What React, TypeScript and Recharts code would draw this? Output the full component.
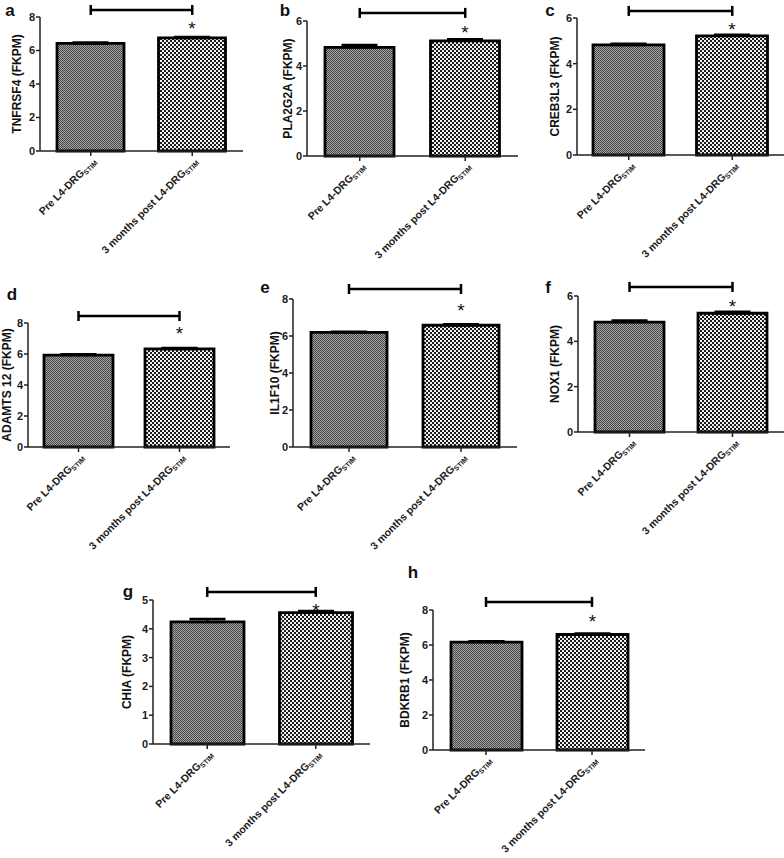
import React from 'react';
import { BarChart, Bar, XAxis, YAxis, ErrorBar, ReferenceLine, LabelList, Cell } from 'recharts';

// ---------------- data ----------------
const categories = ['Pre', 'Post'];
const categoryLabels = ['Pre L4-DRG', '3 months post L4-DRG'];
const categorySubscript = 'STIM';

const panelLetters = ['a', 'b', 'c', 'd', 'e', 'f', 'g', 'h'];
const genes = ['TNFRSF4', 'PLA2G2A', 'CREB3L3', 'ADAMTS 12', 'IL1F10', 'NOX1', 'CHIA', 'BDKRB1'];
const preValues = [6.42, 4.83, 4.82, 5.93, 6.2, 4.85, 4.24, 6.17];
const postValues = [6.75, 5.12, 5.22, 6.33, 6.58, 5.24, 4.56, 6.6];
const preErrors = [0.06, 0.1, 0.05, 0.06, 0.03, 0.07, 0.1, 0.05];
const postErrors = [0.06, 0.07, 0.05, 0.06, 0.06, 0.06, 0.06, 0.06];
const yMaxes = [8, 6, 6, 8, 8, 6, 5, 8];
const yTicks = [
  [0, 2, 4, 6, 8],
  [0, 2, 4, 6],
  [0, 2, 4, 6],
  [0, 2, 4, 6, 8],
  [0, 2, 4, 6, 8],
  [0, 2, 4, 6],
  [0, 1, 2, 3, 4, 5],
  [0, 2, 4, 6, 8],
];
const bracketLevels = [8.42, 6.36, 6.31, 8.45, 8.54, 6.4, 5.28, 8.46];
const significance = ['*', '*', '*', '*', '*', '*', '*', '*'];

// ---------------- layout (page pixels) ----------------
const W = 784;
const H = 858;
const FONT = "'Liberation Sans', Arial, sans-serif";
const YAXIS_W = 30;
const XAXIS_H = 30;
const INK = '#1a1a1a';

const layouts = [
  { x0: 40, x1: 243, top: 17, bottom: 151, barSize: 67, letter: [10, 16], ylabX: 17, starOff: 6 },
  { x0: 307, x1: 518, top: 21, bottom: 156, barSize: 69, letter: [285, 16], ylabX: 288, starOff: 5 },
  { x0: 577, x1: 784, top: 18, bottom: 155, barSize: 71, letter: [550, 16], ylabX: 555, starOff: 3 },
  { x0: 28, x1: 230, top: 323, bottom: 447, barSize: 69, letter: [12, 300], ylabX: 7, starOff: 12 },
  { x0: 293, x1: 517, top: 299, bottom: 447, barSize: 76, letter: [265, 293], ylabX: 275, starOff: 11 },
  { x0: 578, x1: 784, top: 296, bottom: 432, barSize: 69, letter: [548, 293], ylabX: 555, starOff: 3 },
  { x0: 153, x1: 370, top: 600, bottom: 744, barSize: 73, letter: [128, 597], ylabX: 127, starOff: -1 },
  { x0: 433, x1: 645, top: 610, bottom: 750, barSize: 71, letter: [413, 578], ylabX: 405, starOff: 10 },
];

const XTick = (props: any) => {
  const { x, y, payload } = props;
  const idx = categories.indexOf(payload.value);
  return (
    <g transform={`translate(${x + 6},${y + 6}) rotate(-45)`}>
      <text x={0} y={0} textAnchor="end" fontSize={10.5} fontWeight="bold" fill={INK} fontFamily={FONT}>
        {categoryLabels[idx]}
        <tspan fontSize={7} dy={2}>{categorySubscript}</tspan>
      </text>
    </g>
  );
};

const YTick = (props: any) => {
  const { x, y, payload } = props;
  return (
    <text x={x} y={y} dy="0.36em" textAnchor="end" fontSize={11} fontWeight="bold" fill={INK} fontFamily={FONT}>
      {payload.value}
    </text>
  );
};

const Panel = ({ i }: { i: number }) => {
  const L = layouts[i];
  const data = [
    { cat: categories[0], value: preValues[i], err: [0, preErrors[i]] },
    { cat: categories[1], value: postValues[i], err: [0, postErrors[i]] },
  ];
  const ppu = (L.bottom - L.top) / yMaxes[i];
  const capHalf = 5 / ppu;
  const lvl = bracketLevels[i];
  const bracketStyle = { stroke: '#000', strokeWidth: 2.5 };
  return (
    <div style={{ position: 'absolute', left: 0, top: 0, width: W, height: H }}>
      <BarChart
        width={W}
        height={H}
        data={data}
        margin={{ top: L.top, left: L.x0 - YAXIS_W, right: W - L.x1, bottom: H - L.bottom - XAXIS_H }}
        barSize={L.barSize}
      >
        <XAxis
          dataKey="cat"
          height={XAXIS_H}
          interval={0}
          tick={<XTick />}
          tickSize={5}
          tickMargin={0}
          axisLine={{ stroke: '#222', strokeWidth: 1.5 }}
          tickLine={{ stroke: '#222', strokeWidth: 1.5 }}
        />
        <YAxis
          type="number"
          width={YAXIS_W}
          domain={[0, yMaxes[i]]}
          ticks={yTicks[i]}
          interval={0}
          tickSize={4}
          tickMargin={1}
          axisLine={{ stroke: '#222', strokeWidth: 1.5 }}
          tickLine={{ stroke: '#222', strokeWidth: 1.5 }}
          tick={<YTick />}
        />
        <Bar dataKey="value" stroke="#000" strokeWidth={2.8} isAnimationActive={false}>
          {data.map((d, k) => (
            <Cell key={k} fill={k === 0 ? 'url(#pat-pre)' : 'url(#pat-post)'} />
          ))}
          <ErrorBar dataKey="err" width={18} stroke="#000" strokeWidth={2.5} direction="y" />
          <LabelList
            dataKey="value"
            content={(p: any) =>
              p.index === 1 ? (
                <text
                  x={p.x + p.width / 2}
                  y={p.y - L.starOff + 3}
                  textAnchor="middle"
                  fontSize={19}
                  fontFamily={FONT}
                  fill="#111"
                >
                  {significance[i]}
                </text>
              ) : null
            }
          />
        </Bar>
        <ReferenceLine
          ifOverflow="visible"
          segment={[{ x: categories[0], y: lvl }, { x: categories[1], y: lvl }]}
          {...bracketStyle}
        />
        <ReferenceLine
          ifOverflow="visible"
          segment={[{ x: categories[0], y: lvl - capHalf }, { x: categories[0], y: lvl + capHalf }]}
          {...bracketStyle}
        />
        <ReferenceLine
          ifOverflow="visible"
          segment={[{ x: categories[1], y: lvl - capHalf }, { x: categories[1], y: lvl + capHalf }]}
          {...bracketStyle}
        />
      </BarChart>
    </div>
  );
};

export default function App() {
  return (
    <div style={{ position: 'absolute', left: 0, top: 0, width: W, height: H, background: '#fff', overflow: 'hidden' }}>
      <svg width={W} height={H} style={{ position: 'absolute', left: 0, top: 0 }}>
        <defs>
          <pattern id="pat-pre" width={4} height={4} patternUnits="userSpaceOnUse">
            <rect width={4} height={4} fill="#a8a8a8" />
            <rect x={0} y={0} width={1} height={1} fill="#444" />
            <rect x={2} y={0} width={1} height={1} fill="#444" />
            <rect x={1} y={1} width={1} height={1} fill="#444" />
            <rect x={3} y={1} width={1} height={1} fill="#444" />
            <rect x={0} y={2} width={1} height={1} fill="#444" />
            <rect x={2} y={2} width={1} height={1} fill="#444" />
            <rect x={1} y={3} width={1} height={1} fill="#444" />
            <rect x={3} y={3} width={1} height={1} fill="#444" />
          </pattern>
          <pattern id="pat-post" width={4} height={4} patternUnits="userSpaceOnUse">
            <rect width={4} height={4} fill="#1c1c1c" />
            <rect x={0} y={0} width={2} height={2} fill="#f0f0f0" />
            <rect x={2} y={2} width={2} height={2} fill="#f0f0f0" />
          </pattern>
        </defs>
        {panelLetters.map((l, i) => (
          <text
            key={l}
            x={layouts[i].letter[0]}
            y={layouts[i].letter[1]}
            textAnchor="middle"
            fontSize={17}
            fontWeight="bold"
            fontFamily={FONT}
            fill="#111"
          >
            {l}
          </text>
        ))}
        {genes.map((g, i) => {
          const cx = layouts[i].ylabX;
          const cy = (layouts[i].top + layouts[i].bottom) / 2;
          return (
            <text
              key={g}
              x={cx}
              y={cy}
              dy="0.35em"
              transform={`rotate(-90 ${cx} ${cy})`}
              textAnchor="middle"
              fontSize={12}
              fontWeight="bold"
              fontFamily={FONT}
              fill="#111"
            >
              {`${g} (FKPM)`}
            </text>
          );
        })}
      </svg>
      {panelLetters.map((l, i) => (
        <Panel key={l} i={i} />
      ))}
    </div>
  );
}
